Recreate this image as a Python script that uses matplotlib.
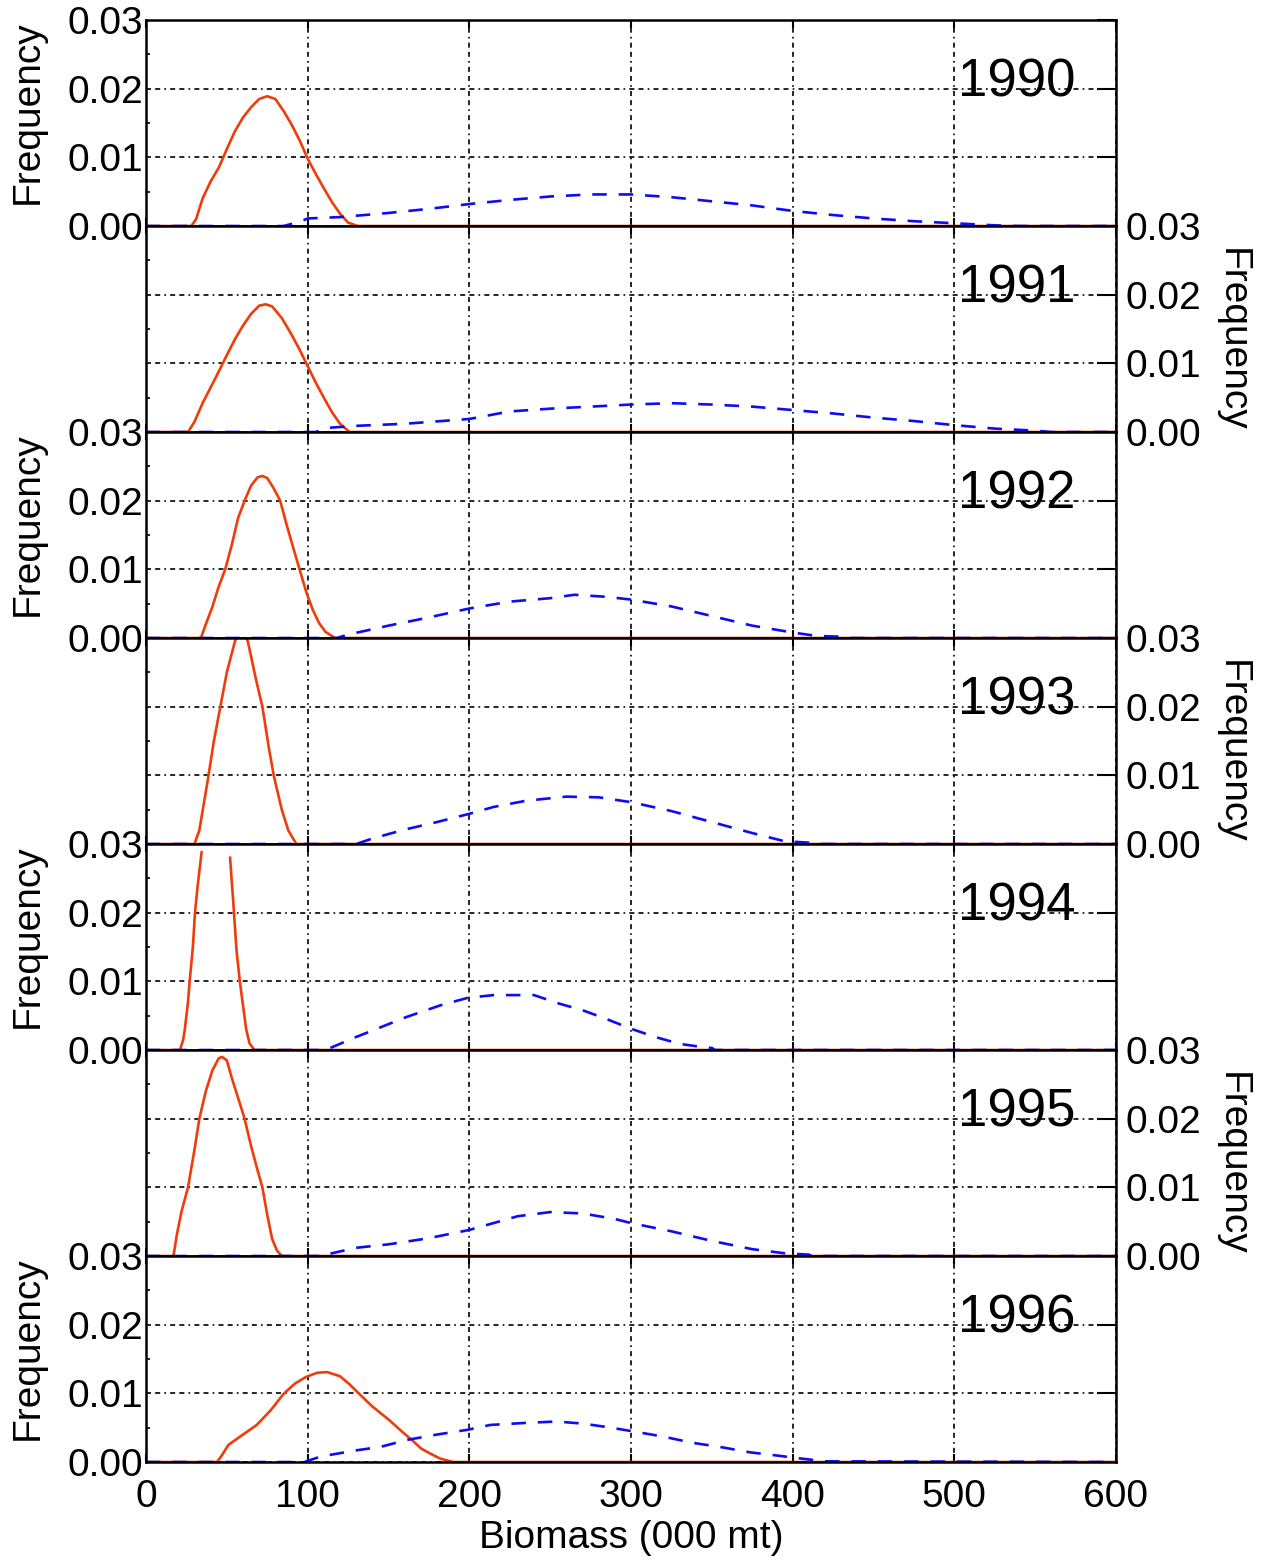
import numpy as np
import matplotlib
matplotlib.use('Agg')
import matplotlib.pyplot as plt
from matplotlib.ticker import MultipleLocator, FormatStrFormatter

plt.rcParams['font.family'] = ['Liberation Sans', 'DejaVu Sans']

years = ['1990', '1991', '1992', '1993', '1994', '1995', '1996']
x_ticks = [0, 100, 200, 300, 400, 500, 600]
y_ticks = [0.00, 0.01, 0.02, 0.03]

# red solid curves (biomass, frequency)
red_1990_x = [0, 28, 31, 35, 40, 45, 50, 55, 60, 65, 70, 75, 80, 85, 90, 95, 100, 105, 110, 115, 120, 125, 131, 600]
red_1990_y = [0, 0, 0.001, 0.004, 0.0065, 0.0085, 0.0112, 0.0138, 0.0158, 0.0173, 0.0185, 0.0189, 0.0185, 0.0168,
              0.0148, 0.0125, 0.0098, 0.0076, 0.0055, 0.0035, 0.0018, 0.0005, 0, 0]
red_1991_x = [0, 26, 30, 35, 40, 45, 50, 55, 60, 65, 70, 74, 78, 84, 90, 95, 100, 105, 110, 115, 120, 126, 600]
red_1991_y = [0, 0, 0.0015, 0.0042, 0.0065, 0.0088, 0.0112, 0.0135, 0.0155, 0.0172, 0.0184, 0.0186, 0.0183, 0.0166,
              0.0142, 0.012, 0.0096, 0.0072, 0.005, 0.0029, 0.0012, 0, 0]
red_1992_x = [0, 34, 37, 41, 45, 49, 53, 57, 61, 65, 69, 72, 75, 79, 83, 87, 91, 95, 99, 103, 107, 111, 117, 600]
red_1992_y = [0, 0, 0.002, 0.0045, 0.0075, 0.010, 0.0135, 0.0175, 0.020, 0.0222, 0.0234, 0.0236, 0.0233, 0.0218,
              0.020, 0.0165, 0.0132, 0.010, 0.0068, 0.0042, 0.0022, 0.0009, 0, 0]
red_1993_x = [0, 30, 33, 38, 42, 46, 50, 55, 59, 63, 68, 72, 76, 79, 84, 88, 93, 600]
red_1993_y = [0, 0, 0.002, 0.009, 0.015, 0.02, 0.025, 0.0295, 0.032, 0.0295, 0.024, 0.02, 0.014, 0.01, 0.005,
              0.002, 0, 0]
red_1994_x = [0, 21, 23, 24, 26, 27, 29, 30.3, 32, 34.4, 43, 52, 54, 56, 58, 60, 62, 64, 67, 600]
red_1994_y = [0, 0, 0.0015, 0.003, 0.007, 0.010, 0.015, 0.020, 0.024, 0.0288, np.nan, 0.028, 0.0215, 0.0145,
              0.0101, 0.0065, 0.003, 0.001, 0, 0]
red_1995_x = [0, 17, 19, 22, 26, 30, 33, 37, 41, 45, 47, 50, 53, 57, 61, 65, 69, 72, 75, 78, 81, 84, 600]
red_1995_y = [0, 0, 0.003, 0.0065, 0.010, 0.0155, 0.020, 0.024, 0.027, 0.0288, 0.029, 0.0285, 0.026, 0.023,
              0.020, 0.016, 0.0125, 0.010, 0.006, 0.0025, 0.0008, 0, 0]
red_1996_x = [0, 44, 47, 51, 60, 68.5, 77, 85, 92, 99, 106, 112, 120, 126, 132, 140, 151, 158, 165, 170, 176,
              182, 190, 600]
red_1996_y = [0, 0, 0.001, 0.0025, 0.004, 0.0054, 0.0075, 0.0099, 0.0114, 0.0124, 0.013, 0.0131, 0.0125, 0.0113,
              0.0099, 0.0081, 0.006, 0.0045, 0.0031, 0.002, 0.0012, 0.0005, 0, 0]

# blue dashed curves
blue_1990_x = [0, 85, 95, 100, 120, 150, 175, 200, 225, 250, 275, 300, 325, 350, 375, 400, 425, 450, 475, 500,
               525, 540, 600]
blue_1990_y = [0, 0, 0.0006, 0.0011, 0.0013, 0.0019, 0.0025, 0.0032, 0.0038, 0.0043, 0.0046, 0.0046, 0.0042,
               0.0036, 0.0030, 0.0022, 0.0016, 0.0011, 0.0007, 0.0004, 0.0001, 0, 0]
blue_1991_x = [0, 105, 112, 130, 160, 200, 225, 250, 275, 300, 325, 350, 375, 400, 425, 450, 475, 500, 525, 550,
               560, 600]
blue_1991_y = [0, 0, 0.0006, 0.0009, 0.0012, 0.0019, 0.0030, 0.0034, 0.0037, 0.0040, 0.0042, 0.0040, 0.0037,
               0.0032, 0.0027, 0.0021, 0.0016, 0.0010, 0.0005, 0.0002, 0, 0]
blue_1992_x = [0, 118, 125, 150, 175, 200, 225, 250, 265, 285, 300, 325, 350, 375, 400, 415, 430, 435, 600]
blue_1992_y = [0, 0, 0.0005, 0.0018, 0.003, 0.0043, 0.0053, 0.0058, 0.0063, 0.006, 0.0056, 0.0046, 0.0032,
               0.0018, 0.0008, 0.0003, 0.0002, 0, 0]
blue_1993_x = [0, 130, 140, 160, 180, 200, 215, 235, 260, 280, 300, 325, 350, 375, 395, 410, 412, 600]
blue_1993_y = [0, 0, 0.0008, 0.0021, 0.0032, 0.0044, 0.0054, 0.0063, 0.0069, 0.0068, 0.0061, 0.0048, 0.0032,
               0.0016, 0.0004, 0.0002, 0, 0]
blue_1994_x = [0, 110, 115, 130, 145, 161, 182, 199, 215, 240, 255, 270, 285, 300, 315, 330, 345, 350, 352, 600]
blue_1994_y = [0, 0, 0.0004, 0.0019, 0.0033, 0.0048, 0.0065, 0.0076, 0.008, 0.008, 0.0068, 0.0058, 0.0045,
               0.0031, 0.0019, 0.0009, 0.0004, 0.0003, 0, 0]
blue_1995_x = [0, 108, 115, 130, 150, 175, 200, 215, 230, 250, 270, 290, 300, 325, 350, 375, 395, 410, 412, 600]
blue_1995_y = [0, 0, 0.0004, 0.0012, 0.0017, 0.0026, 0.0038, 0.0048, 0.0058, 0.0064, 0.0062, 0.0054, 0.0048,
               0.0036, 0.0022, 0.0010, 0.0004, 0.0002, 0, 0]
blue_1996_x = [0, 98, 103, 108, 130, 145, 161, 180, 199, 213, 235, 254, 270, 285, 303, 320, 338, 355, 374, 392,
               409, 420, 600]
blue_1996_y = [0, 0, 0.0004, 0.0008, 0.0017, 0.0022, 0.0032, 0.004, 0.0047, 0.0054, 0.0057, 0.0059, 0.0056,
               0.0051, 0.0044, 0.0037, 0.0028, 0.0022, 0.0014, 0.0009, 0.0004, 0.0001, 0]

red_series = [(red_1990_x, red_1990_y), (red_1991_x, red_1991_y), (red_1992_x, red_1992_y),
              (red_1993_x, red_1993_y), (red_1994_x, red_1994_y), (red_1995_x, red_1995_y),
              (red_1996_x, red_1996_y)]
blue_series = [(blue_1990_x, blue_1990_y), (blue_1991_x, blue_1991_y), (blue_1992_x, blue_1992_y),
               (blue_1993_x, blue_1993_y), (blue_1994_x, blue_1994_y), (blue_1995_x, blue_1995_y),
               (blue_1996_x, blue_1996_y)]

RED = '#f03c0a'
BLUE = '#0c0cf5'
FS = 28


def main():
    fig, axes = plt.subplots(7, 1, sharex=True, figsize=(12.64, 15.64), dpi=100)
    fig.subplots_adjust(left=0.1155, right=0.8829, top=0.9872, bottom=0.0652, hspace=0)

    for i, ax in enumerate(axes):
        rx, ry = red_series[i]
        bx, by = blue_series[i]
        ax.plot(rx, ry, color=RED, lw=1.9)
        ax.plot(bx, by, color=BLUE, lw=1.9, linestyle=(0, (5.5, 4.5)))

        ax.set_xlim(0, 600)
        ax.set_ylim(0, 0.03)
        ax.set_xticks(x_ticks)
        ax.set_yticks(y_ticks)
        ax.yaxis.set_minor_locator(MultipleLocator(0.005))
        ax.yaxis.set_major_formatter(FormatStrFormatter('%.2f'))
        ax.grid(True, which='major', color='black', linestyle=(0, (3, 2.5, 3, 2.5, 1, 2.5)), linewidth=1.2)

        for s in ax.spines.values():
            s.set_linewidth(1.8)

        ax.tick_params(axis='x', which='major', direction='in', top=True, bottom=True,
                       length=6, width=1.5, labelsize=FS, pad=12)
        ax.tick_params(axis='y', which='major', direction='in', left=False, right=True,
                       length=14, width=1.5, labelsize=FS)
        ax.tick_params(axis='y', which='minor', direction='in', left=True, right=False,
                       length=3, width=1.2)

        if i % 2 == 0:
            ax.tick_params(axis='y', labelleft=True, labelright=False, pad=2)
            ax.set_ylabel('Frequency', fontsize=FS, rotation=90, va='center', ha='center')
            ax.yaxis.set_label_coords(-0.1216, 0.553)
        else:
            ax.tick_params(axis='y', labelleft=False, labelright=True, pad=7)
            ax.yaxis.set_label_position('right')
            ax.set_ylabel('Frequency', fontsize=FS, rotation=270, va='center', ha='center')
            ax.yaxis.set_label_coords(1.1196, 0.447)

        ax.text(0.898, 0.628, years[i], transform=ax.transAxes, fontsize=38,
                ha='center', va='baseline')

    axes[-1].set_xlabel('Biomass (000 mt)', fontsize=FS, labelpad=4)
    fig.savefig('out.png', dpi=100)


if __name__ == '__main__':
    main()
